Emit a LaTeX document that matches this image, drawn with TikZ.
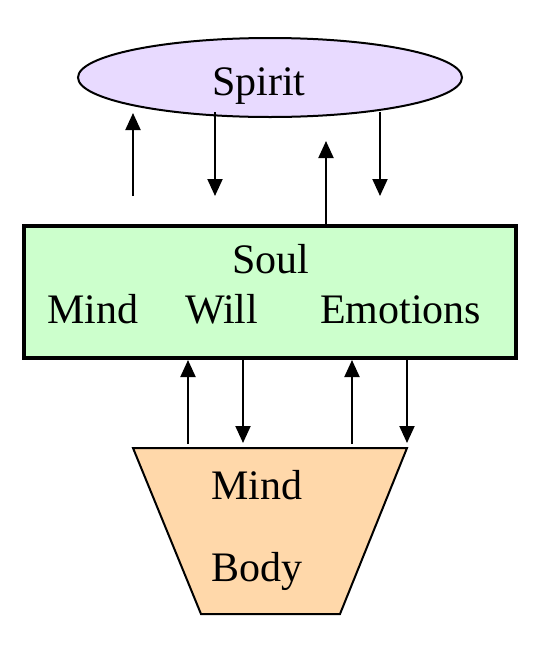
\documentclass[tikz,border=0pt]{standalone}
\usepackage{fontspec}
\setmainfont{Liberation Serif}
\usetikzlibrary{arrows.meta,shapes.geometric}
\definecolor{spiritfill}{HTML}{E8DAFF}
\definecolor{soulfill}{HTML}{CCFFCC}
\definecolor{bodyfill}{HTML}{FFD8AA}
\begin{document}
\begin{tikzpicture}[x=1pt,y=-1pt,
  lbl/.style={inner sep=0pt,anchor=base west,font=\fontsize{42}{50}\selectfont},
  arr/.style={line width=2pt,-{Triangle[length=17pt,width=15pt]}}]
\useasboundingbox (0,0) rectangle (540,646);
% shapes
\node[ellipse,draw,line width=2pt,fill=spiritfill,minimum width=384pt,minimum height=79pt,inner sep=0pt] (spirit) at (270,77.5) {};
\node[rectangle,draw,line width=3.6pt,fill=soulfill,minimum width=492.4pt,minimum height=132.4pt,inner sep=0pt] (soul) at (270,292) {};
\coordinate (tl) at (133,448);
\coordinate (tr) at (407,448);
\coordinate (br) at (340,614);
\coordinate (bl) at (201,614);
\draw[line width=2pt,fill=bodyfill,line join=miter] (tl) -- (tr) -- (br) -- (bl) -- cycle;
% labels
\node[lbl] (tspirit) at (212,95) {Spirit};
\node[lbl] (tsoul) at (232,273) {Soul};
\node[lbl] (tmind) at (47,323) {Mind};
\node[lbl] (twill) at (185,323) {Will};
\node[lbl] (temo) at (320,323) {Emotions};
\node[lbl] (tbmind) at (211,499) {Mind};
\node[lbl] (tbody) at (211,581) {Body};
% arrow end points
\coordinate (a1s) at (133,196); \coordinate (a1e) at (133,113);
\coordinate (a2s) at (215,112); \coordinate (a2e) at (215,196);
\coordinate (a3e) at (326,141);
\coordinate (a4s) at (380,112); \coordinate (a4e) at (380,196);
\coordinate (b1s) at (188,444);
\coordinate (b2e) at (243,443);
\coordinate (b3s) at (352,444);
\coordinate (b4e) at (407,443);
% arrows
\draw[arr] (a1s) -- (a1e);
\draw[arr] (a2s) -- (a2e);
\draw[arr] (a3e |- soul.north) -- (a3e);
\draw[arr] (a4s) -- (a4e);
\draw[arr] (b1s) -- (b1s |- soul.south);
\draw[arr] (b2e |- soul.south) -- (b2e);
\draw[arr] (b3s) -- (b3s |- soul.south);
\draw[arr] (b4e |- soul.south) -- (b4e);
\end{tikzpicture}
\end{document}
